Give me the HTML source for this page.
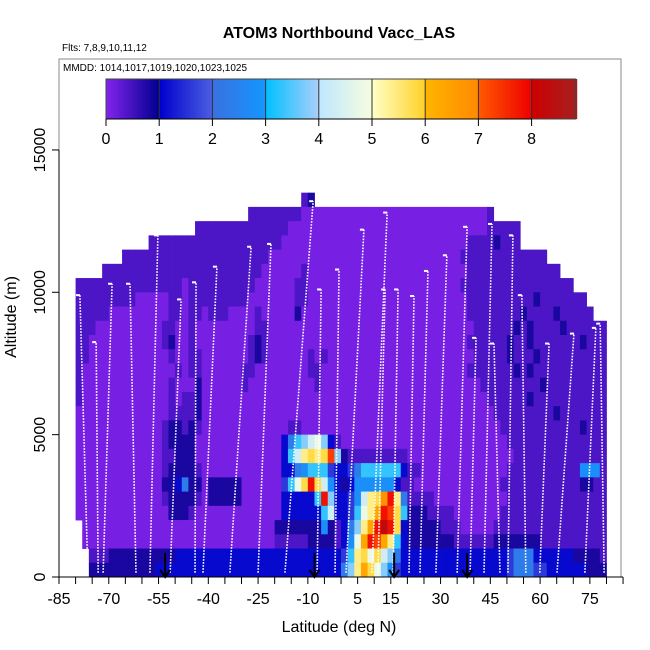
<!DOCTYPE html>
<html><head><meta charset="utf-8"><style>
body{margin:0;background:#fff}
svg{display:block;font-family:"Liberation Sans",sans-serif}
</style></head><body>
<svg id="c" width="650" height="650" viewBox="0 0 650 650">
<text x="339" y="38" text-anchor="middle" font-size="16" font-weight="bold">ATOM3 Northbound Vacc_LAS</text>
<text x="62" y="51" font-size="10">Flts: 7,8,9,10,11,12</text>
<rect x="59" y="59" width="562" height="518" fill="none" stroke="#888" stroke-width="1"/>
<text x="63" y="71" font-size="10">MMDD: 1014,1017,1019,1020,1023,1025</text>
<g id="cells"></g>
<g id="profiles"></g>
<g id="arrows"></g>
<g id="cbar"></g>
<g id="axes"></g>
<text x="339" y="632" text-anchor="middle" font-size="16">Latitude (deg N)</text>
<text transform="translate(16,317) rotate(-90)" text-anchor="middle" font-size="16">Altitude (m)</text>
</svg>
<script>
// grid rows: r26 (13000-13500 m) down to r0 (0-500 m); columns lat -80..78 step 2
const gridRows = [
".......... .......... .......... ....12.... .......... .......... .......... ..........",
".......... .......... ......1111 1111000000 0000000000 0000000000 001....... ..........",
".......... ........11 1111111111 1100000000 0000000000 0000000000 0011111... ..........",
".......... .111111111 1111111111 1000000000 0000000000 0000000001 1112111... ..........",
".......111 1111111111 1111111110 0000000000 0000000000 0000000011 1111111111 1.........",
"....111111 1111111111 1111111100 0000100000 0000000000 0000000001 1111111111 111.......",
"1111111111 1111110111 1111111000 0001100000 0000000000 0000000011 1111111111 11111.....",
"1111111110 0000110111 1111110000 0001100000 0000000000 0000000001 1111111112 1111111...",
"1111100000 0000110110 1110000100 0002000000 0000000000 0000000001 1111111211 11211111..",
"1110000000 0001100100 0000000110 0000000000 0000000000 0000000000 1111112121 1112111111",
"1100000000 0001200100 0000001210 0000000000 0000000000 0000000001 1111121121 1111112111",
"1100000000 0000100110 0000001210 0000010100 0000000000 0000000000 1111121112 1111111111",
"1000000000 0000010110 0000011000 0000011000 0000000000 0000000001 1111112121 1111111111",
"1000000000 0000100020 0000010000 0000001000 0000000000 0000000000 0111111111 2111111111",
"1000000000 0000101120 0000000000 0000000000 0000000000 0000000000 0011111121 1111111111",
"0000000000 0000111120 0000000000 0000000000 0000000000 0000000000 0001111111 1121111111",
"0000000000 0001221210 0000000000 0011000000 0000000000 0000000000 0000111111 1111112111",
"0000000000 0001222200 0000000000 035789A831 0000000000 0000000000 0000011111 1111111111",
"0000000000 0001122200 0000000000 0379BCBCF8 2111111111 0000000000 0000001111 1111111111",
"0000000000 0001222210 0000000000 0335677743 3457777773 1100000000 0000011111 1111116661",
"0000000000 0002235220 2222200000 047ACGC963 2366666631 1000000000 0000111111 1111112211",
"0000000000 0001222210 2222200000 0333337G83 3469BCEGB5 1111000000 0000011111 1111111111",
"0000000000 0000222100 0000000000 0333333793 347ABDGFC7 2221111000 0000111111 1111111111",
".000000000 0000000000 0000000000 2222222621 358BDGHGC3 2222211100 0001111111 1111111111",
".000000000 0000000000 0000000000 1111122221 36ADGFDB73 2222222111 1112222222 1111111111",
"..11122222 2222233333 3333333333 3333333333 47BCAC9853 3333333333 3333345553 3333322221",
"..22222222 2233333333 3333333333 3333333333 58BDCA8643 3333333333 3333345554 4333333222"
];
const levelChars = "0123456789ABCDEFGH";
const levelValues = [0.1,0.42,0.8,1.1,1.6,2.3,2.8,3.3,3.8,4.3,4.8,5.4,5.8,6.3,6.8,7.3,7.8,8.3];
const latStart = -80, latStep = 2, altStep = 500;
// flight profiles
const profBottomLat = [-76.3,-73.2,-71.7,-61.8,-57.6,-51.5,-44.0,-41.6,-33.5,-25.0,-16.9,-7.2,-1.8,1.5,9.3,11.1,15.7,20.5,23.8,28.6,35.0,43.1,38.9,50.3,47.9,55.7,59.9,65.1,73.5,79.3];
const profTopLat    = [-78.7,-73.8,-69.0,-63.6,-55.2,-48.2,-43.7,-37.4,-27.1,-21.1,-8.4,-6.0,-0.6,6.9,13.9,13.3,17.2,22.0,26.2,31.9,38.0,45.5,40.7,51.8,46.1,54.5,62.7,70.2,76.8,78.1];
const profTopAlt    = [9900,8250,10300,10300,12000,9750,10350,10900,11600,11700,13200,10100,10800,12200,12800,10100,10100,9870,10750,11300,12300,12400,8400,12000,8200,9900,8200,8550,8750,8900];
const arrowLats = [-53, -8, 16, 38];
const xTicks = [-85,-80,-75,-70,-65,-60,-55,-50,-45,-40,-35,-30,-25,-20,-15,-10,-5,0,5,10,15,20,25,30,35,40,45,50,55,60,65,70,75,80,85];
const xLabels = [-85,-70,-55,-40,-25,-10,5,15,30,45,60,75];
const yTicks = [0,5000,10000,15000];
const cbarTicks = [0,1,2,3,4,5,6,7,8];
const cbarMax = 8.83;

const NS="http://www.w3.org/2000/svg";
function X(lat){return 59+(lat+85)*3.318;}
function Y(alt){return 577-alt*0.02847;}
function CB(v){return 106+v*53.2;}
const CBT=79, CBH=40;
const stops=[[0,'#8424ee'],[0.99,'#00008e'],[1,'#0000cc'],[1.99,'#4a5ee0'],[2,'#3a70e0'],[2.99,'#1496ff'],[3,'#00bfff'],[3.99,'#a8cffa'],[4,'#bfe6ff'],[4.99,'#f6fde0'],[5,'#ffffc8'],[5.99,'#ffd22a'],[6,'#ffb400'],[6.99,'#ff8a00'],[7,'#ff5a00'],[7.99,'#ee0000'],[8,'#cc0000'],[8.9,'#a52222']];
function hx(h){return [parseInt(h.substr(1,2),16),parseInt(h.substr(3,2),16),parseInt(h.substr(5,2),16)];}
function col(v){
  if(v<=stops[0][0])return stops[0][1];
  for(let i=1;i<stops.length;i++){if(v<=stops[i][0]){const a=stops[i-1],b=stops[i];const t=(v-a[0])/(b[0]-a[0]);const ca=hx(a[1]),cb=hx(b[1]);return 'rgb('+ca.map((c,j)=>Math.round(c+(cb[j]-c)*t)).join(',')+')';}}
  return stops[stops.length-1][1];
}
function mk(tag,attrs,parent){const e=document.createElementNS(NS,tag);for(const k in attrs)e.setAttribute(k,attrs[k]);parent.appendChild(e);return e;}

const cells=document.getElementById('cells');
const nRows=gridRows.length;
gridRows.forEach((row,i)=>{
  const s=row.replace(/ /g,'');const r=nRows-1-i;
  for(let k=0;k<s.length;k++){
    const ch=s[k];if(ch==='.')continue;
    const v=levelValues[levelChars.indexOf(ch)];
    const lat=latStart+k*latStep;
    const x0=X(lat),x1=X(lat+latStep),y0=Y((r+1)*altStep),y1=Y(r*altStep);
    const e=mk('rect',{x:x0.toFixed(2),y:y0.toFixed(2),width:(x1-x0+0.4).toFixed(2),height:(y1-y0+0.4).toFixed(2),fill:col(v)},cells);
    
    
  }
});

const prof=document.getElementById('profiles');
for(let i=0;i<profTopAlt.length;i++){
  const e=mk('line',{x1:X(profBottomLat[i]),y1:Y(150),x2:X(profTopLat[i]),y2:Y(profTopAlt[i]),stroke:'#fff','stroke-width':1.6,'stroke-dasharray':'1.6 1.4'},prof);
  
  
  const c=mk('line',{x1:X(profTopLat[i])-4,y1:Y(profTopAlt[i]),x2:X(profTopLat[i]),y2:Y(profTopAlt[i]),stroke:'#fff','stroke-width':2},prof);
  
  
}

const arr=document.getElementById('arrows');
arrowLats.forEach(l=>{
  const x=X(l);
  const g=mk('g',{},arr);
  
  
  mk('line',{x1:x,y1:Y(850),x2:x,y2:576,stroke:'#000','stroke-width':2},g);
  mk('polyline',{points:(x-5)+','+570+' '+x+','+577+' '+(x+5)+','+570,fill:'none',stroke:'#000','stroke-width':2},g);
});

const cb=document.getElementById('cbar');
for(let v=0;v<cbarMax;v+=0.05){
  const e=mk('rect',{x:CB(v).toFixed(2),y:CBT,width:(53.2*0.05+0.4).toFixed(2),height:CBH,fill:col(v+0.025)},cb);
  
  
}
mk('rect',{x:CB(0),y:CBT,width:CB(cbarMax)-CB(0),height:CBH,fill:'none',stroke:'#444','stroke-width':1},cb);
cbarTicks.forEach(t=>{
  const x=CB(t);
  if(t>0)mk('line',{x1:x,y1:CBT,x2:x,y2:CBT+CBH,stroke:'#333','stroke-width':1},cb);
  mk('line',{x1:x,y1:CBT+CBH,x2:x,y2:CBT+CBH+7,stroke:'#000','stroke-width':1},cb);
  const tx=mk('text',{x:x,y:144,'text-anchor':'middle','font-size':16},cb);
  tx.textContent=t;
  
  
});
mk('line',{x1:CB(0),y1:CBT+CBH,x2:CB(8),y2:CBT+CBH,stroke:'#000','stroke-width':1},cb);

const ax=document.getElementById('axes');
mk('line',{x1:X(-85),y1:577,x2:X(85),y2:577,stroke:'#000','stroke-width':1},ax);
xTicks.forEach(t=>{mk('line',{x1:X(t),y1:577,x2:X(t),y2:584,stroke:'#000','stroke-width':1},ax);});
xLabels.forEach(t=>{
  const e=mk('text',{x:X(t),y:604,'text-anchor':'middle','font-size':16},ax);
  e.textContent=t;
  
  
});
mk('line',{x1:59,y1:Y(0),x2:59,y2:Y(15000),stroke:'#000','stroke-width':1},ax);
yTicks.forEach(t=>{
  mk('line',{x1:52,y1:Y(t),x2:59,y2:Y(t),stroke:'#000','stroke-width':1},ax);
  const e=mk('text',{transform:'translate(45,'+Y(t)+') rotate(-90)','text-anchor':'middle','font-size':16},ax);
  e.textContent=t;
  
  
});
</script>
</body></html>
